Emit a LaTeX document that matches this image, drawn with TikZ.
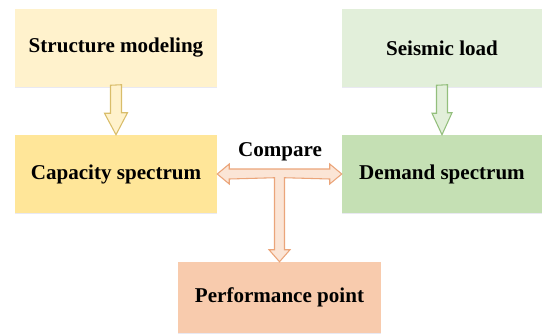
\documentclass[tikz,border=0pt]{standalone}
\usepackage{fontspec}
\setmainfont{Liberation Serif}
\usepackage{tikz}
\usetikzlibrary{calc,shadows}
\definecolor{paleyellow}{HTML}{FFF2CC}
\definecolor{gold}{HTML}{FFE699}
\definecolor{palegreen}{HTML}{E2EFDA}
\definecolor{leaf}{HTML}{C5E0B4}
\definecolor{salmon}{HTML}{F8CBAD}
\definecolor{peach}{HTML}{FBE5D6}
\definecolor{goldline}{HTML}{D9BD6A}
\definecolor{greenline}{HTML}{93BF7C}
\definecolor{orangeline}{HTML}{EBA57A}

\begin{document}
\begin{tikzpicture}[x=0.75pt, y=0.75pt,
  stage/.style={minimum width=151.5pt, minimum height=58.5pt, inner sep=0pt, align=center,
    font=\fontsize{15.8}{19}\selectfont\bfseries,
    drop shadow={shadow xshift=0pt, shadow yshift=-0.8pt, opacity=0.35, fill=blue!25!gray!40}},
  yarrow/.style={draw=goldline, fill=paleyellow, line width=0.8pt, line join=miter},
  garrow/.style={draw=greenline, fill=palegreen, line width=0.8pt, line join=miter},
  oarrow/.style={draw=orangeline, fill=peach, line width=0.8pt, line join=miter},
  lab/.style={font=\fontsize{15.8}{19}\selectfont\bfseries}]
\useasboundingbox (0,0) rectangle (542,333);
\node[stage, fill=paleyellow] (struct) at (116,285) {Structure modeling};
\node[stage, fill=palegreen, minimum width=150pt] (seis) at (442,285) {Seismic load};
\node[stage, fill=gold] (cap) at (116,159) {Capacity spectrum};
\node[stage, fill=leaf, minimum width=150pt] (dem) at (442,159) {Demand spectrum};
\node[stage, fill=salmon, minimum width=152pt, minimum height=53.25pt] (perf) at (279.5,35.5) {Performance point};
\draw[yarrow] ($(struct.south)+(-5.5,2)$) -- ++(0,-28) -- ++(-6,0) -- (cap.north) -- ++(11.5,22) -- ++(-6,0) -- ++(0,28) -- cycle;
\draw[garrow] ($(seis.south)+(-5.5,2)$) -- ++(0,-28) -- ++(-4.5,0) -- (dem.north) -- ++(10,22) -- ++(-4.5,0) -- ++(0,28) -- cycle;
\draw[oarrow] (cap.east) -- ++(12,10) -- ++(0,-5) -- ($(dem.west)+(-12,5)$) -- ++(0,5) -- (dem.west)
  -- ++(-12,-10) -- ++(0,5) -- ($(perf.north)+(5,84)$) -- ($(perf.north)+(5,12)$) -- ++(5.5,0)
  -- (perf.north) -- ++(-10.5,12) -- ++(5.5,0) -- ($(perf.north)+(-5,84)$) -- ($(cap.east)+(12,-5)$)
  -- ++(0,-5) -- cycle;
\node[lab] (cmp) at (280,181) {Compare};
\end{tikzpicture}
\end{document}
